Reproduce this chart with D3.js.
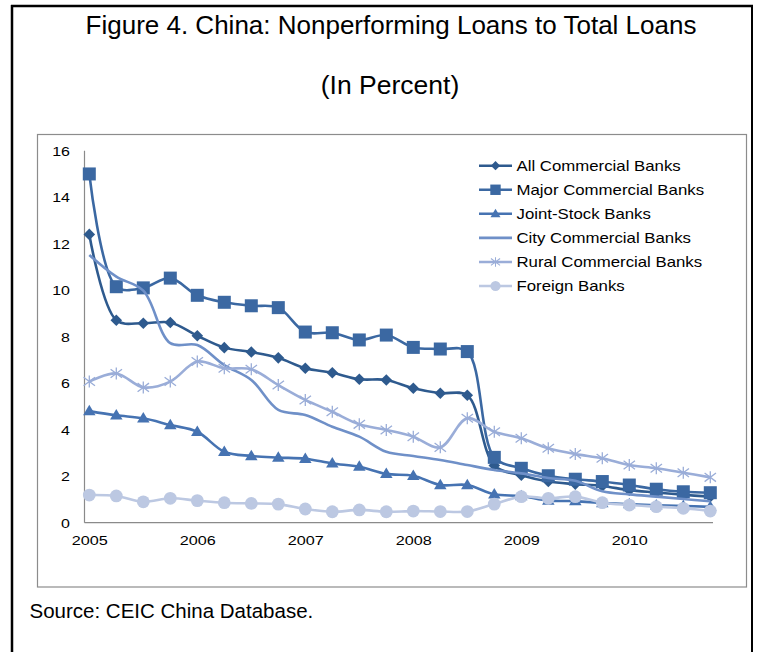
<!DOCTYPE html>
<html>
<head>
<meta charset="utf-8">
<script src="https://cdn.jsdelivr.net/npm/d3@7"></script>
<style>
  html, body { margin: 0; padding: 0; background: #fff; }
  svg { display: block; }
  text { font-family: "Liberation Sans", Arial, sans-serif; fill: #000; }
</style>
</head>
<body>
<svg id="chart" width="760" height="652"></svg>
<script>
// ---- data ----
const quarters = ["2005Q1","2005Q2","2005Q3","2005Q4","2006Q1","2006Q2","2006Q3","2006Q4",
                  "2007Q1","2007Q2","2007Q3","2007Q4","2008Q1","2008Q2","2008Q3","2008Q4",
                  "2009Q1","2009Q2","2009Q3","2009Q4","2010Q1","2010Q2","2010Q3","2010Q4"];
const yearLabels = ["2005","2006","2007","2008","2009","2010"];
const yTicks = [0, 2, 4, 6, 8, 10, 12, 14, 16];
const seriesNames = ["All Commercial Banks","Major Commercial Banks","Joint-Stock Banks",
                     "City Commercial Banks","Rural Commercial Banks","Foreign Banks"];
const allBanks     = [12.4, 8.71, 8.58, 8.61, 8.04, 7.53, 7.34, 7.09, 6.64, 6.45, 6.17, 6.14, 5.78, 5.57, 5.48, 2.46, 2.04, 1.77, 1.66, 1.58, 1.40, 1.30, 1.20, 1.12];
const majorBanks   = [15.0, 10.15, 10.1, 10.52, 9.78, 9.48, 9.33, 9.25, 8.2, 8.17, 7.86, 8.07, 7.54, 7.47, 7.36, 2.81, 2.34, 2.02, 1.87, 1.77, 1.62, 1.44, 1.33, 1.29];
const jointStock   = [4.8, 4.62, 4.49, 4.2, 3.91, 3.05, 2.87, 2.8, 2.75, 2.55, 2.41, 2.1, 2.02, 1.62, 1.62, 1.22, 1.15, 0.95, 0.93, 0.85, 0.8, 0.75, 0.72, 0.68];
const cityBanks    = [11.51, 10.58, 9.98, 7.72, 7.64, 6.78, 6.14, 4.85, 4.63, 4.13, 3.7, 3.05, 2.87, 2.7, 2.48, 2.27, 2.12, 1.92, 1.8, 1.35, 1.22, 1.12, 1.02, 0.92];
const ruralBanks   = [6.07, 6.42, 5.82, 6.07, 6.93, 6.64, 6.6, 5.92, 5.28, 4.77, 4.23, 3.99, 3.7, 3.24, 4.49, 3.91, 3.63, 3.2, 2.95, 2.77, 2.48, 2.34, 2.15, 1.95];
const foreignBanks = [1.19, 1.15, 0.9, 1.05, 0.95, 0.86, 0.83, 0.8, 0.59, 0.47, 0.55, 0.47, 0.5, 0.48, 0.48, 0.8, 1.12, 1.05, 1.12, 0.86, 0.76, 0.69, 0.62, 0.5];

// ---- styles ----
const seriesValues = [allBanks, majorBanks, jointStock, cityBanks, ruralBanks, foreignBanks];
const colors  = ["#2E5A8E", "#3B68A2", "#4673B2", "#6F90C8", "#9AADD8", "#BCC8E2"];
const markers = ["diamond", "square", "triangle", "none", "asterisk", "circle"];

const SX = 1.2; // horizontal stretch of the chart lettering

const svg = d3.select("#chart");

// outer frame
svg.append("line").attr("x1", 12).attr("x2", 12).attr("y1", 5).attr("y2", 652)
   .attr("stroke", "#000").attr("stroke-width", 2.5);
svg.append("line").attr("x1", 11).attr("x2", 753).attr("y1", 6).attr("y2", 6)
   .attr("stroke", "#000").attr("stroke-width", 2.5);
svg.append("line").attr("x1", 752).attr("x2", 752).attr("y1", 5).attr("y2", 652)
   .attr("stroke", "#000").attr("stroke-width", 2);

function plainText(x, y, str, size, anchor) {
  return svg.append("text")
    .attr("x", x).attr("y", y)
    .attr("text-anchor", anchor || "start")
    .style("font-size", size + "px")
    .text(str);
}

// titles
plainText(391, 34, "Figure 4. China: Nonperforming Loans to Total Loans", 26, "middle");
plainText(390, 94, "(In Percent)", 26.5, "middle");
plainText(29.5, 618, "Source: CEIC China Database.", 20.5, "start");

// chart box
svg.append("rect").attr("x", 37.5).attr("y", 134.5).attr("width", 709).attr("height", 452.5)
   .attr("fill", "none").attr("stroke", "#8C8C8C").attr("stroke-width", 1.2);

// scales
const x = d3.scaleLinear().domain([0, quarters.length - 1]).range([89.3, 710.3]);
const y = d3.scaleLinear().domain([0, 16]).range([522.7, 150.7]);

// axes lines
svg.append("line").attr("x1", 84.5).attr("x2", 84.5).attr("y1", y(16)).attr("y2", y(0))
   .attr("stroke", "#8A8A8A").attr("stroke-width", 1.2);
svg.append("line").attr("x1", 84.5).attr("x2", 713).attr("y1", y(0)).attr("y2", y(0))
   .attr("stroke", "#8A8A8A").attr("stroke-width", 1.2);

// y axis labels
const yAxis = d3.axisLeft(y).tickValues(yTicks).tickSize(0).tickPadding(0).tickFormat(d3.format("d"));
const gy = svg.append("g").attr("transform", "translate(70,0)").call(yAxis);
gy.select(".domain").remove();
gy.selectAll("text")
  .attr("x", 0).attr("dy", "0.35em")
  .attr("transform", `scale(${SX},1)`)
  .style("font-size", "13.3px").style("font-family", "Liberation Sans, Arial, sans-serif")
  .attr("fill", "#000");

// x axis labels
const yearIdx = yearLabels.map(yl => quarters.indexOf(yl + "Q1"));
const xAxis = d3.axisBottom(x).tickValues(yearIdx).tickSize(0).tickPadding(0)
  .tickFormat(d => quarters[d].slice(0, 4));
const gx = svg.append("g").attr("transform", `translate(0,${y(0)})`).call(xAxis);
gx.select(".domain").remove();
gx.selectAll("text")
  .attr("y", 22.5).attr("dy", null)
  .attr("transform", `scale(${SX},1)`)
  .style("font-size", "13.5px").style("font-family", "Liberation Sans, Arial, sans-serif")
  .attr("fill", "#000");

// marker drawer
function drawMarker(g, type, color, cx, cy) {
  if (type === "diamond") {
    const r = 5.8;
    g.append("path").attr("d", `M${cx},${cy - r}L${cx + r},${cy}L${cx},${cy + r}L${cx - r},${cy}Z`)
      .attr("fill", color);
  } else if (type === "square") {
    const s = 13;
    g.append("rect").attr("x", cx - s / 2).attr("y", cy - s / 2).attr("width", s).attr("height", s)
      .attr("fill", color);
  } else if (type === "triangle") {
    const w = 12.5, h = 10.5;
    g.append("path").attr("d", `M${cx},${cy - h * 0.6}L${cx + w / 2},${cy + h * 0.4}L${cx - w / 2},${cy + h * 0.4}Z`)
      .attr("fill", color);
  } else if (type === "circle") {
    g.append("circle").attr("cx", cx).attr("cy", cy).attr("r", 6.4).attr("fill", color);
  } else if (type === "asterisk") {
    const r = 6;
    const d = r * 0.95;
    g.append("path")
      .attr("d", `M${cx - d},${cy - d * 0.75}L${cx + d},${cy + d * 0.75}M${cx - d},${cy + d * 0.75}L${cx + d},${cy - d * 0.75}M${cx},${cy - r}L${cx},${cy + r}`)
      .attr("stroke", color).attr("stroke-width", 1.3).attr("fill", "none");
  }
}

// series
const lineGen = d3.line().x((d, i) => x(i)).y(d => y(d)).curve(d3.curveCatmullRom.alpha(0.5));

seriesValues.forEach((vals, si) => {
  const g = svg.append("g");
  g.append("path").datum(vals).attr("d", lineGen)
    .attr("fill", "none").attr("stroke", colors[si]).attr("stroke-width", 2.6)
    .attr("stroke-linejoin", "round");
  if (markers[si] !== "none") {
    vals.forEach((v, i) => drawMarker(g, markers[si], colors[si], x(i), y(v)));
  }
});

// legend
const legendY = d3.scaleLinear().domain([0, seriesNames.length - 1]).range([165.7, 286]);
seriesNames.forEach((name, si) => {
  const ly = legendY(si);
  const g = svg.append("g");
  g.append("line").attr("x1", 479).attr("x2", 512).attr("y1", ly).attr("y2", ly)
    .attr("stroke", colors[si]).attr("stroke-width", 2.6);
  if (markers[si] !== "none") {
    const mk = markers[si];
    const gm = g.append("g").attr("transform", `translate(${495.5},${ly}) scale(0.8) translate(${-495.5},${-ly})`);
    drawMarker(gm, mk, colors[si], 495.5, ly);
  }
  g.append("text")
    .attr("transform", `translate(516.5,${ly}) scale(${SX},1)`)
    .attr("dy", "0.36em")
    .style("font-size", "14px")
    .text(name);
});
</script>
</body>
</html>
